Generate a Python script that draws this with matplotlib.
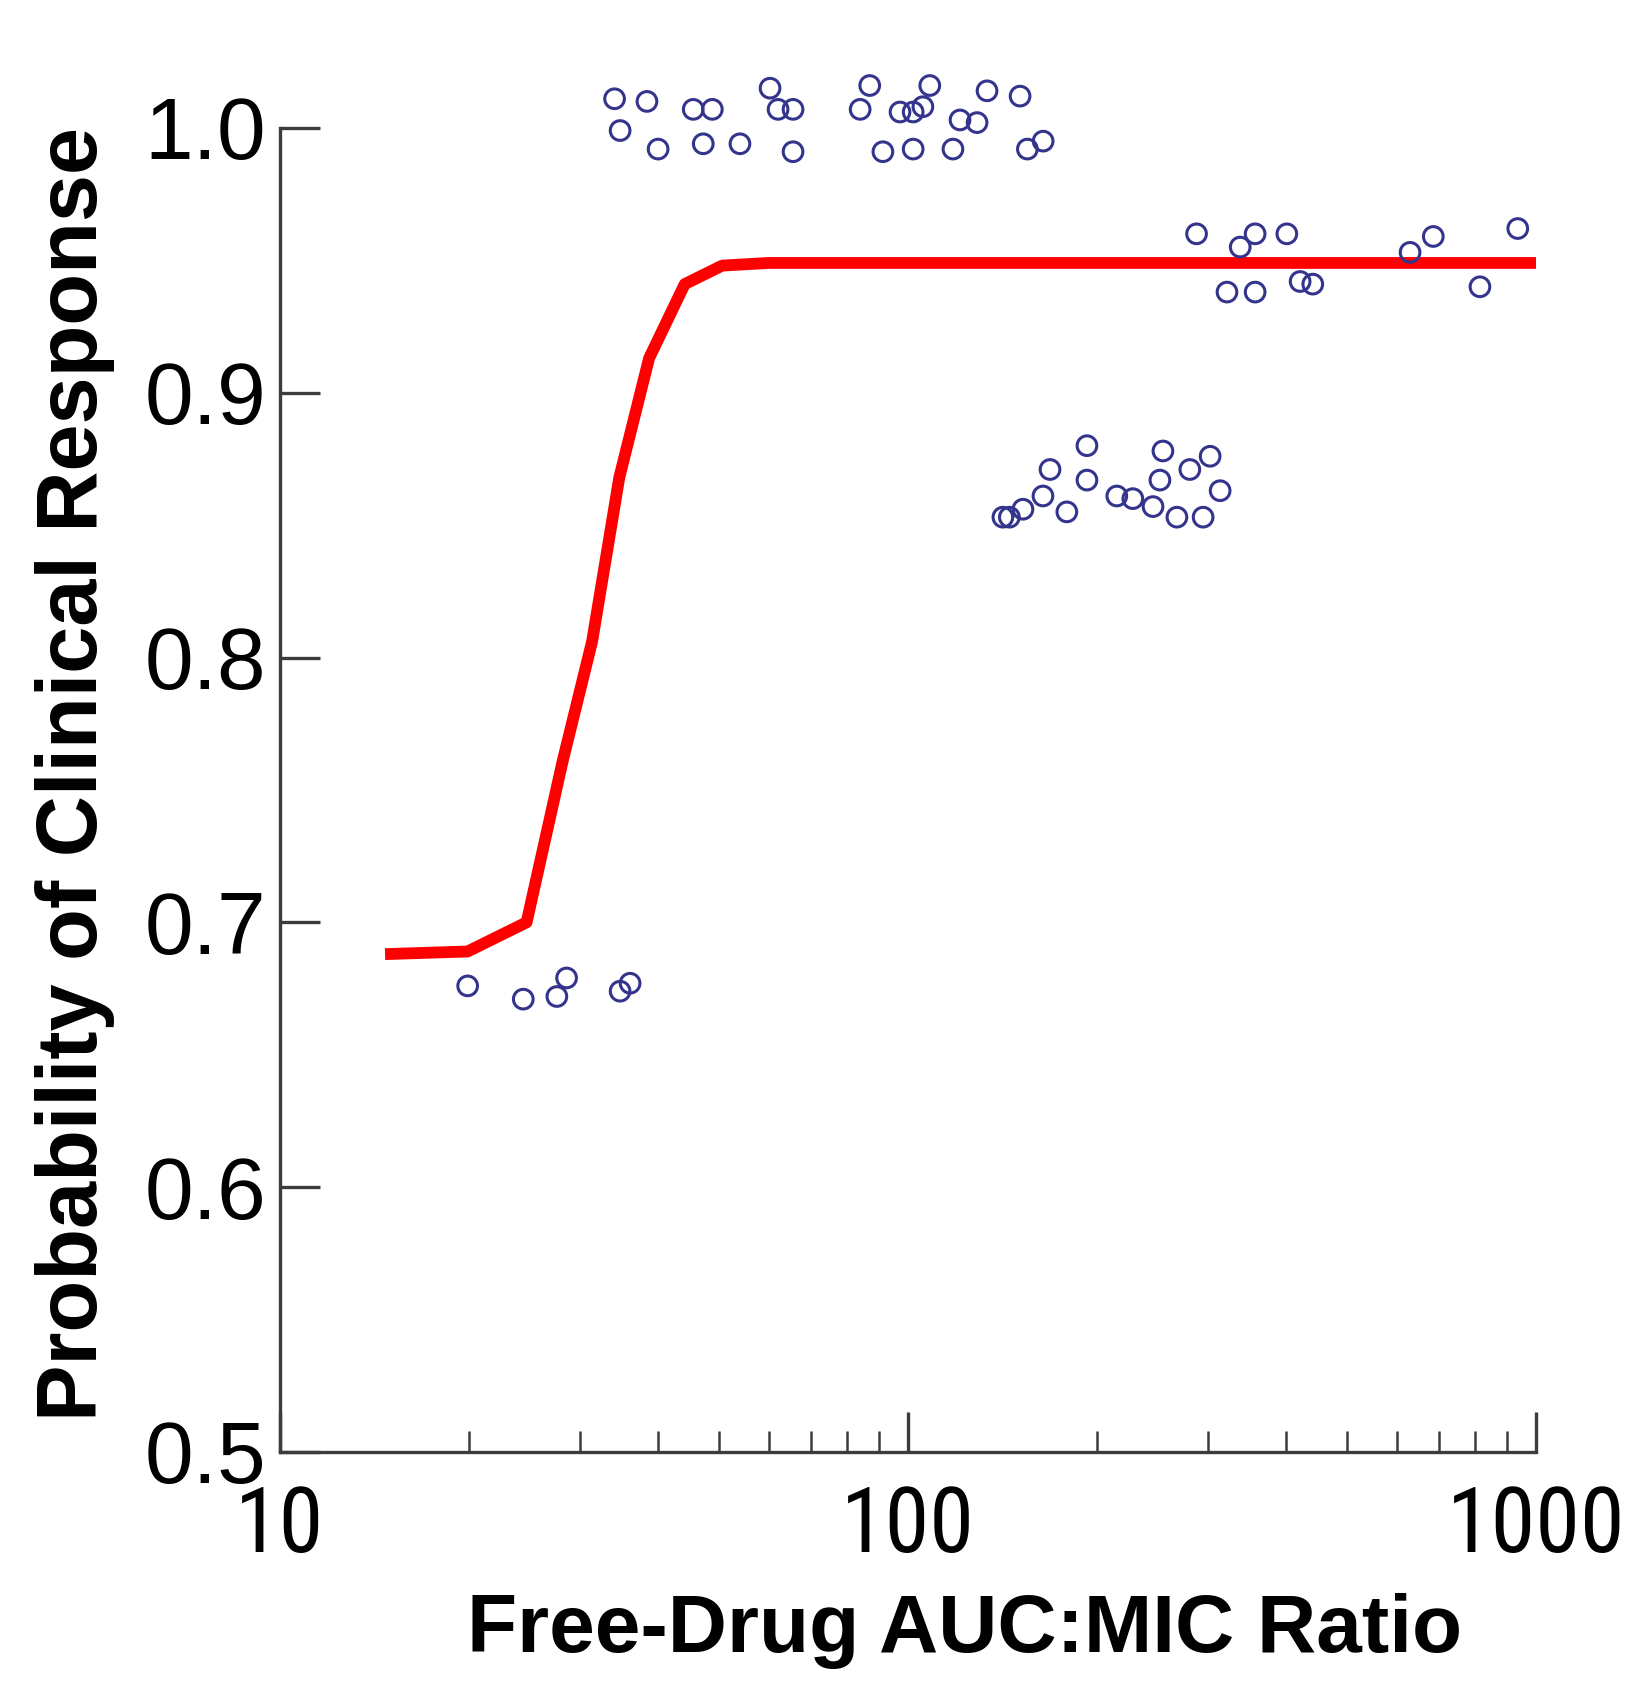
import numpy as np
import matplotlib as mpl

mpl.use('Agg')
import matplotlib.pyplot as plt
from matplotlib import font_manager

# fitted response curve (free-drug AUC:MIC vs probability)
curve_x = [14.7, 19.9, 24.7, 28.2, 31.4, 34.7, 38.7, 44.1, 50.6, 60.0, 100.0, 1000.0]
curve_y = [0.688, 0.689, 0.700, 0.761, 0.806, 0.868, 0.913, 0.941, 0.948, 0.949, 0.949, 0.949]

# observed patient-level points
obs_x = [34.1, 38.4, 34.8, 40.0, 45.5, 48.8, 47.2, 54.0, 60.3, 62.1, 65.6, 65.6, 86.9, 83.9,
         97.1, 108.3, 105.6, 121.0, 128.8, 133.6, 150.8, 91.2, 101.9, 117.9, 154.9, 164.1, 101.9,
         288, 338, 357, 401, 322, 357, 421, 441, 686, 630, 814, 935,
         141.6, 152.4, 168.3, 164.0, 179.0, 192.7, 192.7, 215.0, 228.0, 254.6, 251.8, 245.5,
         268.0, 295.0, 302.7, 314.0, 281.0, 145.0,
         19.9, 24.4, 27.6, 28.6, 34.8, 36.1]
obs_y = [1.011, 1.010, 0.999, 0.992, 1.007, 1.007, 0.994, 0.994, 1.015, 1.007, 1.007, 0.991, 1.016, 1.007,
         1.006, 1.016, 1.008, 1.003, 1.002, 1.014, 1.012, 0.991, 0.992, 0.992, 0.992, 0.995, 1.006,
         0.960, 0.955, 0.960, 0.960, 0.938, 0.938, 0.942, 0.941, 0.959, 0.953, 0.940, 0.962,
         0.853, 0.856, 0.871, 0.861, 0.855, 0.880, 0.867, 0.861, 0.860, 0.878, 0.867, 0.857,
         0.853, 0.853, 0.876, 0.863, 0.871, 0.853,
         0.676, 0.671, 0.672, 0.679, 0.674, 0.677]

y_ticks = [0.5, 0.6, 0.7, 0.8, 0.9, 1.0]
x_ticks = [10, 100, 1000]

# narrow face for the x tick numbers if one is installed
installed = {f.name for f in font_manager.fontManager.ttflist}
narrow = [n for n in ['Liberation Sans Narrow', 'Roboto Condensed', 'Open Sans Condensed']
          if n in installed] + ['Liberation Sans', 'DejaVu Sans']
plt.rcParams['font.family'] = ['Liberation Sans', 'DejaVu Sans']

fig = plt.figure(figsize=(16.42, 17.03), dpi=100)
ax = fig.add_axes([0.1705, 0.1474, 0.765, 0.8397])

ax.plot(curve_x, curve_y, color='#ff0000', lw=8.5, solid_capstyle='butt',
        solid_joinstyle='round', zorder=2)
ax.scatter(obs_x, obs_y, s=200, facecolors='none', edgecolors='#34348c',
           linewidths=2.2, zorder=3, clip_on=False)

ax.set_xscale('log')
ax.set_xlim(10, 1000)
ax.set_ylim(0.5, 1.04)
ax.set_xticks(x_ticks)
ax.set_xticklabels([str(v) for v in x_ticks], family=narrow)
ax.set_yticks(y_ticks)
ax.set_yticklabels(['%.1f' % v for v in y_ticks])

for s in ['top', 'right']:
    ax.spines[s].set_visible(False)
for s in ['left', 'bottom']:
    ax.spines[s].set_color('#3c3c3c')
    ax.spines[s].set_linewidth(2.4)
ax.spines['left'].set_bounds(0.5, 1.0)

ax.tick_params(axis='both', which='major', direction='in', length=29, width=2.4,
               color='#3c3c3c')
ax.tick_params(axis='x', which='minor', direction='in', length=15, width=1.8, color='#3c3c3c')
ax.tick_params(axis='x', which='major', pad=23, labelsize=65)
ax.tick_params(axis='y', which='major', pad=10, labelsize=63)
ax.tick_params(axis='y', which='minor', left=False)

ax.set_xlabel('Free-Drug AUC:MIC Ratio', fontsize=59, fontweight='bold')
ax.xaxis.set_label_coords(0.545, -0.125)
ax.xaxis.label.set_verticalalignment('center')
ax.set_ylabel('Probability of Clinical Response', fontsize=61, fontweight='bold')
ax.yaxis.set_label_coords(-0.163, 0.474)
ax.yaxis.label.set_verticalalignment('center')

fig.savefig('out.png', dpi=100)
